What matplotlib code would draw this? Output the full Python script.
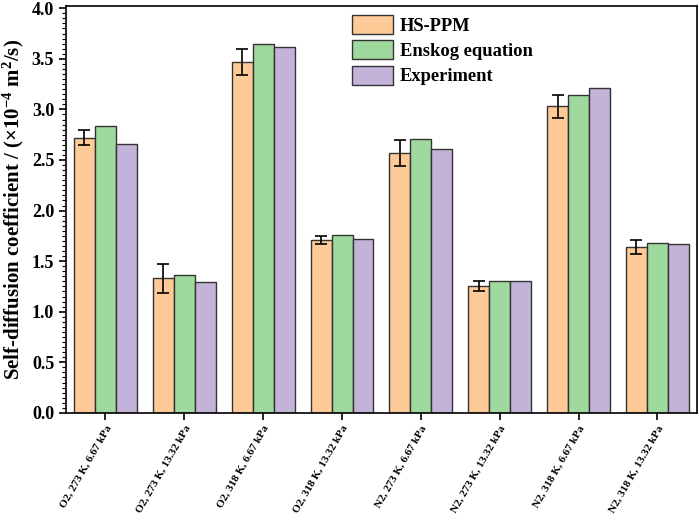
import matplotlib.pyplot as plt
import numpy as np
from matplotlib.ticker import MultipleLocator

plt.rcParams['font.family'] = ['Liberation Serif', 'DejaVu Serif']
plt.rcParams['font.weight'] = 'bold'
plt.rcParams['mathtext.fontset'] = 'custom'
plt.rcParams['mathtext.rm'] = 'Liberation Serif:bold'
plt.rcParams['mathtext.it'] = 'Liberation Serif:bold:italic'
plt.rcParams['mathtext.bf'] = 'Liberation Serif:bold'

categories = ["O2, 273 K, 6.67 kPa", "O2, 273 K, 13.32 kPa",
              "O2, 318 K, 6.67 kPa", "O2, 318 K, 13.32 kPa",
              "N2, 273 K, 6.67 kPa", "N2, 273 K, 13.32 kPa",
              "N2, 318 K, 6.67 kPa", "N2, 318 K, 13.32 kPa"]
hs_ppm = [2.72, 1.33, 3.47, 1.71, 2.57, 1.25, 3.03, 1.64]
hs_ppm_err = [0.075, 0.145, 0.13, 0.04, 0.13, 0.05, 0.115, 0.07]
enskog = [2.84, 1.36, 3.65, 1.76, 2.71, 1.30, 3.14, 1.68]
experiment = [2.66, 1.29, 3.62, 1.72, 2.61, 1.30, 3.21, 1.67]

series = [("HS-PPM", hs_ppm, "#FDCA98"),
          ("Enskog equation", enskog, "#A0D99E"),
          ("Experiment", experiment, "#C3B3D9")]

fig = plt.figure(figsize=(6.99, 5.2), dpi=100)
ax = fig.add_axes([0.0944, 0.206, 0.9026, 0.782])

x = np.arange(len(categories))
w = 0.266
for i, (name, vals, col) in enumerate(series):
    pos = x + (i - 1) * w
    ax.bar(pos, vals, w, color=col, edgecolor="#333333", linewidth=1.0, label=name)
    if i == 0:
        ax.errorbar(pos, vals, yerr=hs_ppm_err, fmt="none", ecolor="black",
                    elinewidth=1.2, capsize=4, capthick=1.2)

ax.set_xlim(-0.5, 7.5)
ax.set_ylim(0, 4.02)
ax.yaxis.set_major_locator(MultipleLocator(0.5))
ax.yaxis.set_minor_locator(MultipleLocator(0.05))
ax.set_xticks(x)
ax.set_xticklabels(categories, rotation=60, ha="right", rotation_mode="anchor",
                   fontsize=8, fontweight="bold")
ax.tick_params(axis="y", which="major", length=5, width=1.2, labelsize=13)
ax.tick_params(axis="y", which="minor", length=3, width=0.8)
ax.tick_params(axis="x", length=5, width=1.2, pad=3)
for lab in ax.get_yticklabels():
    lab.set_fontweight("bold")
for s in ax.spines.values():
    s.set_linewidth(1.2)

ax.set_ylabel("Self-diffusion coefficient / (×10$^{-4}$ m$^{2}$/s)",
              fontsize=15, fontweight="bold", labelpad=4)

leg = ax.legend(loc="upper left", bbox_to_anchor=(0.454, 0.978), frameon=False,
                prop={"size": 13.3, "weight": "bold"}, handlelength=2.17,
                handleheight=1.2, labelspacing=0.3, handletextpad=0.38,
                borderpad=0, borderaxespad=0)

fig.savefig("out.png", dpi=100)
